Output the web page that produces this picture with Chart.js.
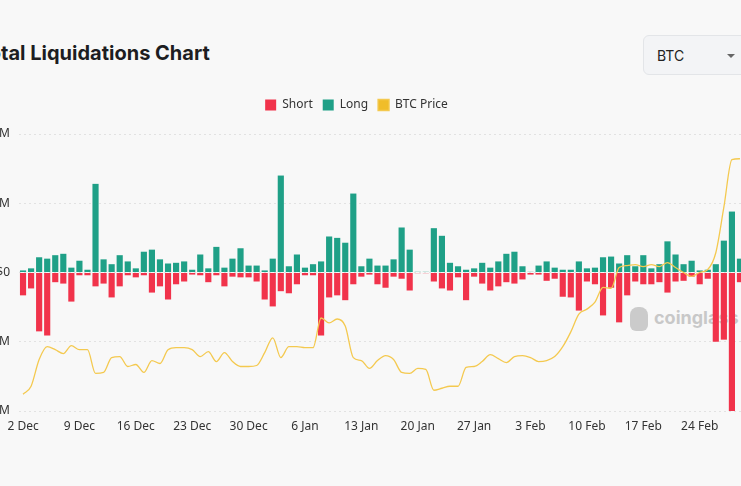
<!DOCTYPE html>
<html>
<head>
<meta charset="utf-8">
<script src="https://cdn.jsdelivr.net/npm/chart.js@4.4.1/dist/chart.umd.min.js"></script>
<style>
  html, body { margin: 0; padding: 0; background: #f8f8f8; overflow: hidden; }
  body { width: 741px; height: 486px; position: relative; font-family: Inter, "Noto Sans", sans-serif; }
  .title { position: absolute; left: -23px; top: 41px; font-size: 20px; font-weight: 700; color: #1d1d21; }
  .select { position: absolute; left: 643px; top: 35px; width: 120px; height: 40px; box-sizing: border-box;
            background: #f3f4f6; border: 1px solid #e3e5e8; border-radius: 6px; }
  .select span { position: absolute; left: 13px; top: 11px; font-size: 14px; color: #222; }
  .select i { position: absolute; left: 83px; top: 18px; width: 0; height: 0;
              border-left: 4px solid transparent; border-right: 4px solid transparent; border-top: 4px solid #666; }
  .wm { position: absolute; left: 630px; top: 307px; color: #c8c8c8; font-size: 18px; font-weight: 700; z-index: 0; }
  .wm b { display: inline-block; width: 18px; height: 24px; background: #cbcbcb; border-radius: 8px 8px 6px 6px; vertical-align: middle; margin-right: 6px; }
  .wrap { position: absolute; left: -31px; top: 89px; width: 808px; height: 347px; z-index: 1; }
</style>
</head>
<body>
<div class="title">Total Liquidations Chart</div>
<div class="select"><span>BTC</span><i></i></div>
<div class="wm"><b></b>coinglass</div>
<div class="wrap"><canvas id="liq"></canvas></div>
<script>
// daily dates, 2 Dec - 29 Feb
const days = [
  "2 Dec","3 Dec","4 Dec","5 Dec","6 Dec","7 Dec","8 Dec","9 Dec","10 Dec","11 Dec",
  "12 Dec","13 Dec","14 Dec","15 Dec","16 Dec","17 Dec","18 Dec","19 Dec","20 Dec","21 Dec",
  "22 Dec","23 Dec","24 Dec","25 Dec","26 Dec","27 Dec","28 Dec","29 Dec","30 Dec","31 Dec",
  "1 Jan","2 Jan","3 Jan","4 Jan","5 Jan","6 Jan","7 Jan","8 Jan","9 Jan","10 Jan",
  "11 Jan","12 Jan","13 Jan","14 Jan","15 Jan","16 Jan","17 Jan","18 Jan","19 Jan","20 Jan",
  "21 Jan","22 Jan","23 Jan","24 Jan","25 Jan","26 Jan","27 Jan","28 Jan","29 Jan","30 Jan",
  "31 Jan","1 Feb","2 Feb","3 Feb","4 Feb","5 Feb","6 Feb","7 Feb","8 Feb","9 Feb",
  "10 Feb","11 Feb","12 Feb","13 Feb","14 Feb","15 Feb","16 Feb","17 Feb","18 Feb","19 Feb",
  "20 Feb","21 Feb","22 Feb","23 Feb","24 Feb","25 Feb","26 Feb","27 Feb","28 Feb","29 Feb"
];

// $M, shorts shown below zero
const shortLiq = [
  -33,-23,-85,-91,-14,-16,-42,-4,-4,-20,
  -16,-36,-20,-4,-7,-4,-29,-20,-39,-17,
  -13,-3,-4,-14,-4,-20,-6,-7,-7,-13,
  -39,-49,-27,-30,-17,-4,-4,-91,-36,-33,
  -40,-17,-6,-3,-17,-22,-6,-9,-26,-1,
  -1,-13,-23,-26,-7,-40,-6,-16,-26,-20,
  -14,-16,-10,-3,-3,-12,-9,-35,-36,-55,
  -13,-17,-62,-22,-72,-33,-13,-17,-17,-14,
  -29,-13,-12,-6,-17,-9,-100,-97,-200,-14
];
const longLiq = [
  3,6,22,20,25,27,7,17,4,128,
  19,12,25,16,6,30,33,19,13,14,
  16,4,26,6,37,7,20,35,10,10,
  3,20,140,9,26,7,12,16,52,50,
  43,114,9,20,10,10,19,65,33,1,
  1,64,53,14,9,4,6,14,7,16,
  27,30,9,1,10,16,7,4,4,16,
  6,7,22,23,13,25,9,25,6,12,
  45,26,12,17,3,4,12,46,88,20
];

// BTC price, USD
const btcPrice = [
  38700,39500,42200,43500,43200,42800,43600,43200,43200,40800,
  40900,42400,42500,41500,41700,40900,42100,41800,43200,43400,
  43400,43200,42500,43000,42000,42900,42000,41500,41500,41600,
  42900,44400,42400,43500,43500,43400,43400,46400,45900,46300,
  45600,42400,42100,41300,42100,42600,42200,40900,40800,41300,
  41200,39100,39300,39500,39500,41400,41500,42000,42700,42300,
  41900,42500,42600,42400,42000,42100,42500,43500,45000,46800,
  47300,48000,49500,49400,51500,51700,51800,51600,51800,51600,
  52000,51500,51000,50600,51000,51300,53000,57600,62400,62500
];

const weekTicks = ["2 Dec","9 Dec","16 Dec","23 Dec","30 Dec","6 Jan","13 Jan","20 Jan","27 Jan","3 Feb","10 Feb","17 Feb","24 Feb"];
const legendOrder = ["Short", "Long", "BTC Price"];

// extra room under the legend
const legendGap = {
    id: "legendGap",
    beforeInit(chart) {
        const fit = chart.legend.fit;
        chart.legend.fit = function () {
            fit.bind(chart.legend)();
            this.height += 13;
        };
    }
};

new Chart(document.getElementById("liq"), {
    data: {
        labels: days,
        datasets: [
            {
                type: "line",
                label: "BTC Price",
                data: btcPrice,
                yAxisID: "price",
                borderColor: "#f4c94f",
                backgroundColor: "#f0bd2a",
                borderWidth: 1.3,
                pointRadius: 0,
                tension: 0.4,
                cubicInterpolationMode: "monotone",
                order: 0
            },
            {
                type: "bar",
                label: "Short",
                data: shortLiq,
                backgroundColor: "#f1334b",
                stack: "liq",
                categoryPercentage: 0.9,
                barPercentage: 0.85,
                order: 1
            },
            {
                type: "bar",
                label: "Long",
                data: longLiq,
                backgroundColor: "#1fa087",
                stack: "liq",
                categoryPercentage: 0.9,
                barPercentage: 0.85,
                order: 1
            }
        ]
    },
    plugins: [legendGap],
    options: {
        responsive: true,
        maintainAspectRatio: false,
        animation: false,
        layout: { padding: { left: 0, right: 33, top: 0, bottom: 0 } },
        plugins: {
            legend: {
                display: true,
                position: "top",
                labels: {
                    boxWidth: 11,
                    boxHeight: 11,
                    padding: 10,
                    color: "#333",
                    font: { family: "'Noto Sans', sans-serif", size: 12 },
                    sort: (a, b) => legendOrder.indexOf(a.text) - legendOrder.indexOf(b.text)
                }
            },
            tooltip: { enabled: false }
        },
        scales: {
            x: {
                stacked: true,
                grid: { display: false },
                border: { display: false },
                ticks: {
                    autoSkip: false,
                    maxRotation: 0,
                    color: "#333",
                    font: { family: "'Noto Sans', sans-serif", size: 12 },
                    padding: 0,
                    callback: function (v) {
                        const l = this.getLabelForValue(v);
                        return weekTicks.includes(l) ? l : "";
                    }
                },
                afterFit: s => { s.height = 25; }
            },
            y: {
                stacked: true,
                min: -200,
                max: 200,
                ticks: {
                    stepSize: 100,
                    padding: 9,
                    color: "#333",
                    font: { family: "'Noto Sans', sans-serif", size: 12 },
                    callback: v => v === 0 ? "$0" : (v < 0 ? "-$" : "$") + Math.abs(v) + "M"
                },
                grid: { color: "#e2e2e2", drawTicks: false },
                border: { display: false, dash: [2, 3] },
                afterFit: s => { s.width = 50; }
            },
            price: {
                display: false,
                position: "right",
                min: 37000,
                max: 65000
            }
        }
    }
});
</script>
</body>
</html>
